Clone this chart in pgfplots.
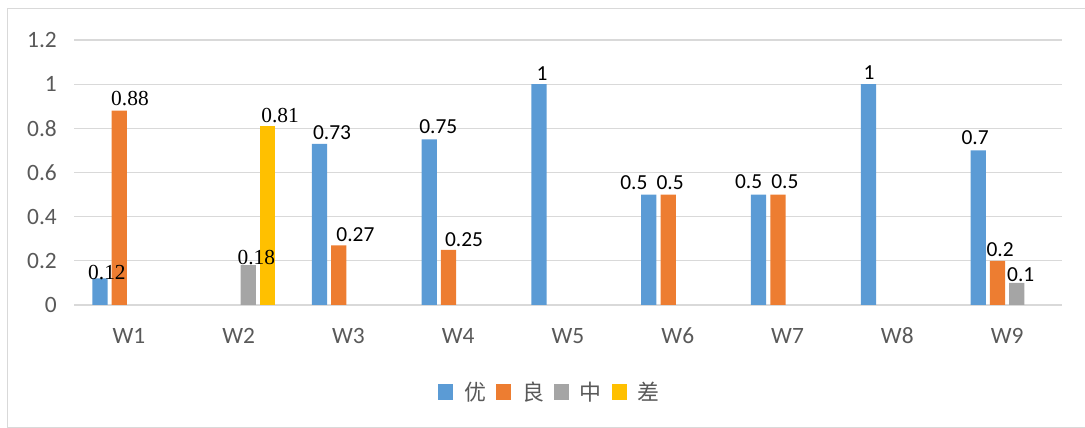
\documentclass[border=0pt]{standalone}
\usepackage{pgfplots}
\pgfplotsset{compat=1.18}
\usepackage{pgfplotstable}
\usepackage{fontspec}
\setmainfont{Carlito}
\newfontfamily\tnr{Liberation Serif}
\newfontfamily\cjk{Noto Sans CJK SC}

\definecolor{cblue}{HTML}{5B9BD5}
\definecolor{corange}{HTML}{ED7D31}
\definecolor{cgray}{HTML}{A5A5A5}
\definecolor{cyellow}{HTML}{FFC000}
\definecolor{gridgray}{HTML}{D9D9D9}
\definecolor{labelgray}{HTML}{595959}

% x = week index, y = share; dx/dy nudge the value label, f=1 sets it in serif
\pgfplotstableread{
x y dx dy f
0 0.12 7 -1.5 1
2 0.73 12.5 4 0
3 0.75 9 5.5 0
4 1 3 3.3 0
5 0.5 -15 5 0
6 0.5 -10 6 0
7 1 0.6 4 0
8 0.7 -3 5.6 0
}\tabyou
\pgfplotstableread{
x y dx dy f
0 0.88 10.75 5 1
2 0.27 16.6 4 0
3 0.25 15.5 2.7 0
5 0.5 2 5 0
6 0.5 7 6 0
8 0.2 2.6 4.3 0
}\tabliang
\pgfplotstableread{
x y dx dy f
1 0.18 8 0.5 1
8 0.1 4 1.3 0
}\tabzhong
\pgfplotstableread{
x y dx dy f
1 0.81 12.5 3 1
}\tabcha

\newcommand\lblfont[1]{\ifdim#1pt>0.5pt\relax\tnr\fi}

\begin{document}
\begin{tikzpicture}
\useasboundingbox (0bp,0bp) rectangle (1085bp,428bp);
\draw[gridgray, line width=1bp] (7bp,1bp) rectangle (1100bp,419bp);
\begin{axis}[
  at={(74bp,123bp)}, anchor=south west,
  scale only axis, width=988bp, height=265bp,
  xmin=-0.5, xmax=8.5, ymin=0, ymax=1.2,
  xtick={0,1,2,3,4,5,6,7,8},
  xticklabels={W1,W2,W3,W4,W5,W6,W7,W8,W9},
  ytick={0,0.2,0.4,0.6,0.8,1,1.2},
  ymajorgrids, grid style={draw=gridgray, line width=1.2bp},
  axis line style={draw=none}, major tick length=0pt,
  tick label style={font=\fontsize{23.5}{23.5}\selectfont, color=labelgray},
  yticklabel style={anchor=east, inner sep=0pt, xshift=-17bp},
  xticklabel style={anchor=base, inner sep=0pt, yshift=-38bp},
  /pgf/number format/assume math mode=true,
  ybar, bar width=0.139, bar shift=0pt,
  visualization depends on={\thisrow{dx} \as \labeldx},
  visualization depends on={\thisrow{dy} \as \labeldy},
  visualization depends on={\thisrow{f} \as \labelserif},
  nodes near coords={\lblfont{\labelserif}\pgfmathprintnumber{\pgfplotspointmeta}},
  nodes near coords style={anchor=south, inner sep=0pt,
    xshift=\labeldx bp, yshift=\labeldy bp,
    font=\fontsize{21.5}{21.5}\selectfont, color=black},
  legend image code/.code={\fill[#1] (0bp,-7.8bp) rectangle (15.6bp,7.8bp);},
  legend style={at={(0.4816,-0.3283)}, anchor=center, draw=none, fill=none,
    legend columns=4, font=\cjk\fontsize{22}{22}\selectfont, text=labelgray,
    /tikz/every odd column/.append style={column sep=8.7bp},
    /tikz/every even column/.append style={column sep=7.7bp}},
  legend cell align=left,
]
\addplot[fill=cblue, draw=none] table[x expr=\thisrow{x}-0.2637, y=y] {\tabyou};
\addplot[fill=corange, draw=none] table[x expr=\thisrow{x}-0.0879, y=y] {\tabliang};
\addplot[fill=cgray, draw=none] table[x expr=\thisrow{x}+0.0879, y=y] {\tabzhong};
\addplot[fill=cyellow, draw=none] table[x expr=\thisrow{x}+0.2637, y=y] {\tabcha};
\legend{优,良,中,差}
\end{axis}
\end{tikzpicture}
\end{document}
